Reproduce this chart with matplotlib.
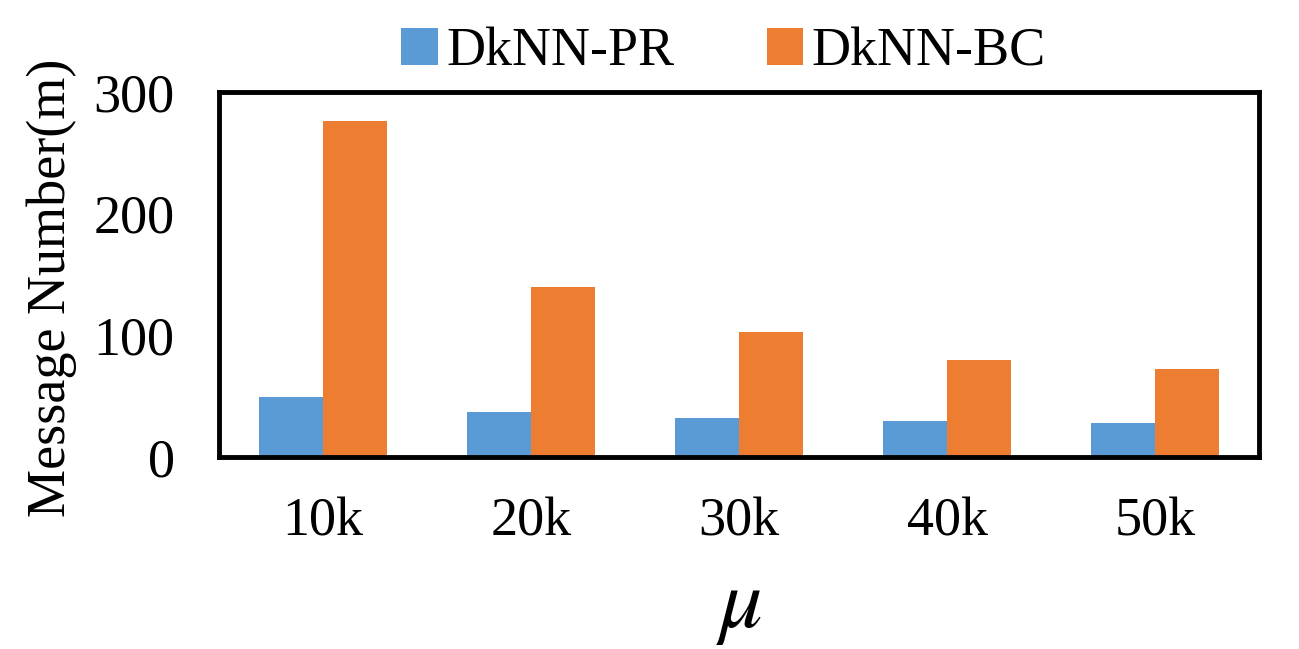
import matplotlib.pyplot as plt
import numpy as np

# data
categories = ["10k", "20k", "30k", "40k", "50k"]
pr_values = [49, 37, 32, 30, 28]
bc_values = [276, 140, 103, 80, 72]
series_names = ["DkNN-PR", "DkNN-BC"]
y_ticks = [0, 100, 200, 300]

plt.rcParams['font.family'] = ['Liberation Serif', 'DejaVu Serif']
plt.rcParams['mathtext.fontset'] = 'stix'

fig = plt.figure(figsize=(12.99, 6.49), dpi=100)
ax = fig.add_axes([219 / 1299, 1 - 457 / 649, (1259 - 219) / 1299, (457 - 92) / 649])

x = np.arange(len(categories))
w = 0.31
ax.bar(x - w / 2, pr_values, w, color="#5B9BD5", label=series_names[0], zorder=1)
ax.bar(x + w / 2, bc_values, w, color="#ED7D31", label=series_names[1], zorder=1)

ax.set_xlim(-0.5, len(categories) - 0.5)
ax.set_ylim(0, 300)
ax.set_yticks(y_ticks)
ax.set_xticks(x)
ax.set_xticklabels(categories)
ax.tick_params(axis="both", length=0, labelsize=39)
ax.tick_params(axis="y", pad=32)
ax.tick_params(axis="x", pad=29)

for s in ax.spines.values():
    s.set_linewidth(3.5)
    s.set_color("black")
    s.set_zorder(3)

ax.set_ylabel("Message Number(m)", fontsize=39)
ax.yaxis.set_label_coords(-0.1365, 0.463)
ax.set_xlabel(r"$\mu$", fontsize=62, labelpad=14)

fig.legend(loc="upper center", bbox_to_anchor=(0.557, 1.034), ncol=2, frameon=False,
           fontsize=39, handlelength=0.68, handleheight=0.68, handletextpad=0.15,
           columnspacing=1.7)

fig.savefig("out.png", dpi=100)
